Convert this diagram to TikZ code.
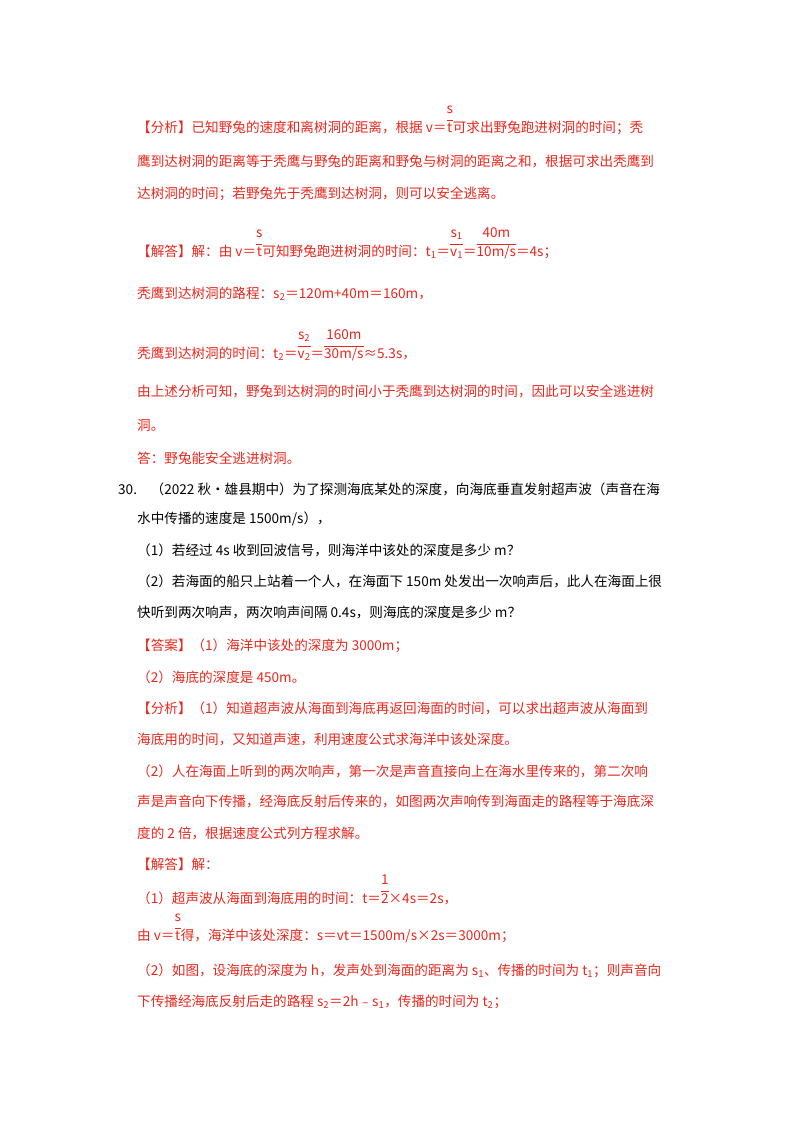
\documentclass[tikz,border=0pt]{standalone}
\usepackage{fontspec}
\setmainfont{Noto Sans CJK SC}
\definecolor{red1}{HTML}{E8281E}
\newcommand\fr[2]{\begin{tabular}[b]{@{}c@{}}#1\\[1pt]\hline\rule{0pt}{12pt}#2\end{tabular}}
\begin{document}
\begin{tikzpicture}[x=1pt,y=-1pt,
  ln/.style={anchor=base west,inner sep=0pt,font=\fontsize{13.6}{16}\selectfont,text=red1},
  bk/.style={ln,text=black}]
\useasboundingbox[fill=white] (0,0) rectangle (800,1132);
\setlength\tabcolsep{1pt}
\node[ln] (l1) at (137,132) {【分析】已知野兔的速度和离树洞的距离，根据 v＝\fr{s}{t}可求出野兔跑进树洞的时间；秃};
\node[ln] (l2) at (137,166) {鹰到达树洞的距离等于秃鹰与野兔的距离和野兔与树洞的距离之和，根据可求出秃鹰到};
\node[ln] (l3) at (137,198) {达树洞的时间；若野兔先于秃鹰到达树洞，则可以安全逃离。};
\node[ln] (l4) at (137,256) {【解答】解：由 v＝\fr{s}{t}可知野兔跑进树洞的时间：t\textsubscript{1}＝\fr{s\textsubscript{1}}{v\textsubscript{1}}＝\fr{40m}{10m/s}＝4s；};
\node[ln] (l5) at (137,298) {秃鹰到达树洞的路程：s\textsubscript{2}＝120m+40m＝160m，};
\node[ln] (l6) at (137,358) {秃鹰到达树洞的时间：t\textsubscript{2}＝\fr{s\textsubscript{2}}{v\textsubscript{2}}＝\fr{160m}{30m/s}≈5.3s，};
\node[ln] (l7) at (137,396) {由上述分析可知，野兔到达树洞的时间小于秃鹰到达树洞的时间，因此可以安全逃进树};
\node[ln] (l8) at (137,430) {洞。};
\node[ln] (l9) at (137,463) {答：野兔能安全逃进树洞。};
\node[bk] (l10) at (118,494) {30.\quad （2022 秋•雄县期中）为了探测海底某处的深度，向海底垂直发射超声波（声音在海};
\node[bk] (l11) at (137,523) {水中传播的速度是 1500m/s），};
\node[bk] (l12) at (137,555) {（1）若经过 4s 收到回波信号，则海洋中该处的深度是多少 m？};
\node[bk] (l13) at (137,586) {（2）若海面的船只上站着一个人，在海面下 150m 处发出一次响声后，此人在海面上很};
\node[bk] (l13b) at (137,617) {快听到两次响声，两次响声间隔 0.4s，则海底的深度是多少 m？};
\node[ln] (l14) at (137,650) {【答案】（1）海洋中该处的深度为 3000m；};
\node[ln] (l15) at (137,682) {（2）海底的深度是 450m。};
\node[ln] (l16) at (137,713) {【分析】（1）知道超声波从海面到海底再返回海面的时间，可以求出超声波从海面到};
\node[ln] (l17) at (137,744) {海底用的时间，又知道声速，利用速度公式求海洋中该处深度。};
\node[ln] (l18) at (137,776) {（2）人在海面上听到的两次响声，第一次是声音直接向上在海水里传来的，第二次响};
\node[ln] (l19) at (137,806) {声是声音向下传播，经海底反射后传来的，如图两次声响传到海面走的路程等于海底深};
\node[ln] (l20) at (137,838) {度的 2 倍，根据速度公式列方程求解。};
\node[ln] (l21) at (137,869) {【解答】解：};
\node[ln] (l22) at (137,903) {（1）超声波从海面到海底用的时间：t＝\fr{1}{2}×4s＝2s，};
\node[ln] (l23) at (137,940) {由 v＝\fr{s}{t}得，海洋中该处深度：s＝vt＝1500m/s×2s＝3000m；};
\node[ln] (l24) at (137,975) {（2）如图，设海底的深度为 h，发声处到海面的距离为 s\textsubscript{1}、传播的时间为 t\textsubscript{1}；则声音向};
\node[ln] (l25) at (137,1006) {下传播经海底反射后走的路程 s\textsubscript{2}＝2h﹣s\textsubscript{1}，传播的时间为 t\textsubscript{2}；};
\end{tikzpicture}
\end{document}
